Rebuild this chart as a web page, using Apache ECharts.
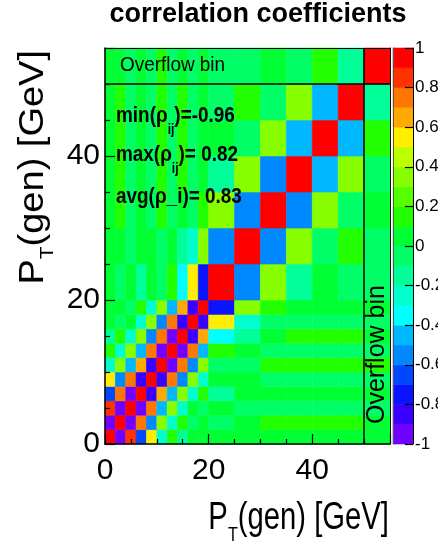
<!DOCTYPE html>
<html><head><meta charset="utf-8">
<script src="https://cdn.jsdelivr.net/npm/echarts@6/dist/echarts.min.js"></script>
<style>html,body{margin:0;padding:0;background:#fff;}#c{width:438px;height:542px;}</style>
</head><body><div id="c"></div>
<script>
// bin edges in GeV (same for x and y); last bin (50-55) is the overflow bin
const binEdges = [0, 2, 4, 6, 8, 10, 12, 14, 16, 18, 20, 25, 30, 35, 40, 45, 50, 55];
// lower triangle of the symmetric correlation matrix, row = y bin, col = x bin
const rhoLower = [
  [1],
  [-0.95, 1],
  [0.82, -0.93, 1],
  [-0.65, 0.75, -0.92, 1],
  [0.52, -0.52, 0.73, -0.86, 1],
  [-0.25, 0.35, -0.45, 0.65, -0.86, 1],
  [0.15, -0.25, 0.35, -0.45, 0.73, -0.96, 1],
  [-0.15, 0.15, -0.22, 0.35, -0.52, 0.73, -0.92, 1],
  [0.05, -0.05, 0.08, -0.25, 0.35, -0.52, 0.73, -0.88, 1],
  [0.03, 0.05, -0.03, 0.15, -0.22, 0.35, -0.45, 0.65, -0.86, 1],
  [0.03, -0.04, 0.08, -0.12, 0.05, -0.1, 0.12, -0.35, 0.55, -0.75, 1],
  [0.03, 0.08, -0.04, 0.05, 0.05, -0.05, 0.08, -0.12, -0.25, 0.35, -0.55, 1],
  [0.05, 0.1, -0.05, 0.06, -0.05, 0.1, -0.1, 0.08, -0.08, 0.15, 0.32, -0.55, 1],
  [0.03, 0.1, -0.05, 0.08, -0.05, 0.12, -0.08, 0.1, -0.1, 0.08, -0.12, 0.32, -0.55, 1],
  [0.03, 0.1, -0.05, 0.08, -0.06, 0.1, -0.08, 0.1, -0.05, 0.08, 0.08, -0.1, 0.32, -0.45, 1],
  [0.03, 0.1, -0.05, 0.08, -0.06, 0.1, -0.08, 0.1, -0.05, 0.05, -0.05, 0.1, -0.1, 0.32, -0.45, 1],
  [0.05, 0.08, -0.05, 0.06, -0.05, 0.1, -0.08, 0.08, -0.05, 0.08, -0.08, -0.05, 0.08, -0.05, 0.12, -0.18, 1]
];
// colour scale bands
const bandEdges = [-1, -0.9, -0.8, -0.7, -0.6, -0.5, -0.4, -0.3, -0.2, -0.1, 0, 0.1, 0.2, 0.3, 0.4, 0.5, 0.6, 0.7, 0.8, 0.9, 1];
const bandColors = ['#7000ff', '#3a00ff', '#0a14ff', '#0048ff', '#0088ff', '#00b8ff', '#00ffff', '#00ffcc', '#00ff99', '#00ff66',
                    '#00ff33', '#22ff00', '#55ff00', '#88ff00', '#bbff00', '#ffee00', '#ffaa00', '#ff7700', '#ff3300', '#ff0000'];
const colorTicks = [-1, -0.8, -0.6, -0.4, -0.2, 0, 0.2, 0.4, 0.6, 0.8, 1];
const statLines = ['min(ρ', 'ij', ')=-0.96', 'max(ρ', 'ij', ')= 0.82', 'avg(ρ_i)= 0.83'];

const FF = '"Liberation Sans", Arial, Helvetica, sans-serif';
const n = binEdges.length - 1;
const cells = [];
for (let i = 0; i < n; i++) {
  for (let j = 0; j < n; j++) {
    const v = j <= i ? rhoLower[i][j] : rhoLower[j][i];
    cells.push([binEdges[j], binEdges[j + 1], binEdges[i], binEdges[i + 1], v]);
  }
}
const barCells = [];
for (let k = 0; k < bandColors.length; k++) {
  barCells.push([0, 1, bandEdges[k], bandEdges[k + 1], (bandEdges[k] + bandEdges[k + 1]) / 2]);
}
const pieces = bandColors.map((c, k) => k === bandColors.length - 1
  ? { gte: bandEdges[k], lte: bandEdges[k + 1], color: c }
  : { gte: bandEdges[k], lt: bandEdges[k + 1], color: c });

function renderCell(params, api) {
  const p0 = api.coord([api.value(0), api.value(3)]);
  const p1 = api.coord([api.value(1), api.value(2)]);
  const col = api.visual('color');
  return { type: 'rect', shape: { x: p0[0], y: p0[1], width: p1[0] - p0[0], height: p1[1] - p0[1] },
           style: { fill: col, stroke: col, lineWidth: 0.6 } };
}

const mainX = {
  gridIndex: 0, type: 'value', min: 0, max: 55, interval: 20, position: 'bottom', z: 10,
  axisLine: { show: true, onZero: false, lineStyle: { color: '#000', width: 1.5 } },
  axisTick: { show: true, inside: true, length: 10, lineStyle: { color: '#000', width: 1.2 } },
  minorTick: { show: true, splitNumber: 4, length: 5, lineStyle: { color: '#000', width: 1.2 } },
  axisLabel: { show: true, fontSize: 30, color: '#000', fontFamily: FF, margin: 12,
               formatter: v => (v % 20 === 0 ? String(v) : '') },
  splitLine: { show: false }, minorSplitLine: { show: false }
};
const mainY = Object.assign({}, mainX, { position: 'left',
  axisLabel: { show: true, fontSize: 30, color: '#000', fontFamily: FF, margin: 5,
               formatter: v => (v % 20 === 0 ? String(v) : '') } });
const frameAxis = (pos, grid) => ({ gridIndex: grid, type: 'value', min: 0, max: 55, position: pos, z: 10,
  axisLine: { show: true, onZero: false, lineStyle: { color: '#000', width: 1 } },
  axisTick: { show: false }, axisLabel: { show: false }, splitLine: { show: false } });

function richText(main, sub, tail, size, subSize, pad, weight) {
  return {
    text: '{a|' + main + '}{b|' + sub + '}{a|' + tail + '}',
    fill: '#000', fontFamily: FF, fontSize: size, fontWeight: weight,
    rich: {
      a: { fontSize: size, fontFamily: FF, fontWeight: weight, fill: '#000', verticalAlign: 'top' },
      b: { fontSize: subSize, fontFamily: FF, fontWeight: weight, fill: '#000', verticalAlign: 'top', padding: [pad, 0, 0, 0] }
    }
  };
}

const graphic = [
  { type: 'text', z: 100, x: 258, y: 15,
    style: { text: 'correlation coefficients', fontSize: 27, fontWeight: 'bold', fontFamily: FF, fill: '#000',
             align: 'center', verticalAlign: 'middle', textAlign: 'center', textVerticalAlign: 'middle' } },
  { type: 'text', z: 100, x: 389, y: 500, scaleX: 0.77,
    style: Object.assign(richText('P', 'T', '(gen) [GeV]', 38, 21, 25, 'normal'),
      { align: 'right', verticalAlign: 'top', textAlign: 'right', textVerticalAlign: 'top' }) },
  { type: 'text', z: 100, x: 16, y: 50, rotation: Math.PI / 2, scaleY: 0.9,
    style: Object.assign(richText('P', 'T', '(gen) [GeV]', 38, 21, 25, 'normal'),
      { align: 'right', verticalAlign: 'top', textAlign: 'right', textVerticalAlign: 'top' }) },
  { type: 'text', z: 100, x: 120, y: 65.5, scaleX: 0.9,
    style: { text: 'Overflow bin', fontSize: 21, fontFamily: FF, fill: '#000',
             align: 'left', verticalAlign: 'middle', textAlign: 'left', textVerticalAlign: 'middle' } },
  { type: 'text', z: 100, x: 377, y: 424, rotation: Math.PI / 2,
    style: { text: 'Overflow bin', fontSize: 25, fontFamily: FF, fill: '#000',
             align: 'left', verticalAlign: 'middle', textAlign: 'left', textVerticalAlign: 'middle' } },
  { type: 'text', z: 100, x: 116, y: 105, scaleX: 0.86,
    style: Object.assign(richText(statLines[0], statLines[1], statLines[2], 22, 14, 18, 'bold'),
      { align: 'left', verticalAlign: 'top', textAlign: 'left', textVerticalAlign: 'top' }) },
  { type: 'text', z: 100, x: 116, y: 144, scaleX: 0.86,
    style: Object.assign(richText(statLines[3], statLines[4], statLines[5], 22, 14, 18, 'bold'),
      { align: 'left', verticalAlign: 'top', textAlign: 'left', textVerticalAlign: 'top' }) },
  { type: 'text', z: 100, x: 116, y: 186, scaleX: 0.86,
    style: { text: statLines[6], fontSize: 22, fontWeight: 'bold', fontFamily: FF, fill: '#000',
             align: 'left', verticalAlign: 'top', textAlign: 'left', textVerticalAlign: 'top' } }
];

const option = {
  animation: false,
  backgroundColor: '#fff',
  grid: [
    { left: 105, top: 48, width: 285, height: 396, containLabel: false, outerBoundsMode: 'none' },
    { left: 393, top: 48, width: 20, height: 396, containLabel: false, outerBoundsMode: 'none' }
  ],
  xAxis: [mainX, frameAxis('top', 0), { gridIndex: 1, type: 'value', min: 0, max: 1, show: false }],
  yAxis: [mainY, frameAxis('right', 0),
    { gridIndex: 1, type: 'value', min: -1, max: 1, interval: 0.2, position: 'right', z: 10,
      axisLine: { show: true, onZero: false, lineStyle: { color: '#000', width: 1 } },
      axisTick: { show: true, inside: true, length: 8, lineStyle: { color: '#000', width: 1.2 } },
      axisLabel: { show: true, fontSize: 17, color: '#000', fontFamily: FF, margin: 2,
                   formatter: v => (colorTicks.indexOf(Math.round(v * 10) / 10) >= 0 ? String(Math.round(v * 10) / 10) : '') },
      splitLine: { show: false } },
    { gridIndex: 1, type: 'value', min: -1, max: 1, position: 'left', z: 10,
      axisLine: { show: true, onZero: false, lineStyle: { color: '#555', width: 1 } },
      axisTick: { show: false }, axisLabel: { show: false }, splitLine: { show: false } }
  ],
  visualMap: { type: 'piecewise', show: false, dimension: 4, seriesIndex: [0, 1], pieces: pieces },
  series: [
    { type: 'custom', xAxisIndex: 0, yAxisIndex: 0, renderItem: renderCell, data: cells,
      encode: { x: [0, 1], y: [2, 3] }, silent: true, z: 2,
      markLine: { silent: true, symbol: 'none', label: { show: false }, animation: false,
                  lineStyle: { color: '#000', width: 1.5, type: 'solid' },
                  data: [{ xAxis: 50 }, { yAxis: 50 }] } },
    { type: 'custom', xAxisIndex: 2, yAxisIndex: 2, renderItem: renderCell, data: barCells,
      encode: { x: [0, 1], y: [2, 3] }, silent: true, z: 2 }
  ],
  graphic: graphic
};
const chart = echarts.init(document.getElementById('c'));
chart.setOption(option);
</script>
</body></html>
